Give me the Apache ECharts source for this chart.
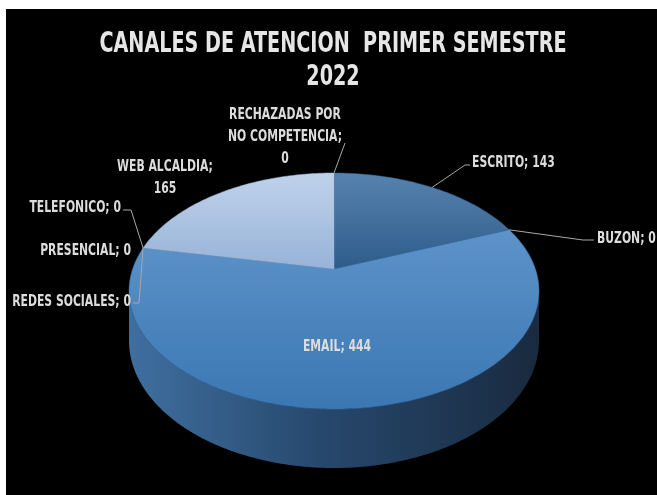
<!DOCTYPE html>
<html><head><meta charset="utf-8">
<script src="https://cdn.jsdelivr.net/npm/echarts@6/dist/echarts.min.js"></script>
<style>html,body{margin:0;padding:0;background:#fff}#c{width:657px;height:495px}</style>
</head><body><div id="c"></div>
<script>
// ---- data ----
const categories = ['ESCRITO','BUZON','EMAIL','REDES SOCIALES','PRESENCIAL','TELEFONICO','WEB ALCALDIA','RECHAZADAS POR NO COMPETENCIA'];
const values = [143, 0, 444, 0, 0, 0, 165, 0];
const titleLines = ['CANALES DE ATENCION  PRIMER SEMESTRE', '2022'];

// ---- styling / layout (not data) ----
const FONT = '"DejaVu Sans Condensed","Liberation Sans Narrow",sans-serif';
const CX = 334, CY = 269, S = 201.4, T = 113.9, K = 0.1864, H = 48;
const faceColors = {
  'ESCRITO': ['#5682ae', '#2e5c8a', 173, 269],
  'EMAIL': ['#5d93c9', '#3b77b2', 230, 409],
  'WEB ALCALDIA': ['#bfd2ea', '#98b3d8', 173, 269]
};
const labelLayout = {
  'ESCRITO': {x: 472, y: 163, align: 'left', line: [[465, 165], [470, 165]]},
  'BUZON': {x: 597, y: 239, align: 'left', line: [[583, 240], [594, 240]]},
  'EMAIL': {x: 337, y: 347, align: 'center'},
  'REDES SOCIALES': {x: 131, y: 302, align: 'right', line: [[139, 303], [133, 303]]},
  'PRESENCIAL': {x: 131, y: 251, align: 'right'},
  'TELEFONICO': {x: 121, y: 208, align: 'right', line: [[131, 210], [123, 210]]},
  'WEB ALCALDIA': {x: 165, y: 178, align: 'center', breakAfter: [';']},
  'RECHAZADAS POR NO COMPETENCIA': {x: 285, y: 137, align: 'center', breakAfter: ['POR', ';'], line: [[345, 143]]}
};

const total = values.reduce((a, b) => a + b, 0);
const starts = [];
{ let acc = 0; values.forEach(v => { starts.push(acc / total * Math.PI * 2); acc += v; }); }

function proj(th, depth) {
  const u = Math.sin(th), v = -Math.cos(th), w = 1 - K * v;
  return [CX + S * u / w, CY + T * v / w + (depth ? H / w : 0)];
}
function arc(a, b, depth) {
  const pts = [], n = Math.max(2, Math.ceil(Math.abs(b - a) / (Math.PI / 180)));
  for (let j = 0; j <= n; j++) pts.push(proj(a + (b - a) * j / n, depth));
  return pts;
}
const thA = Math.acos(-K), thB = 2 * Math.PI - Math.acos(-K);

const chart = echarts.init(document.getElementById('c'), null, {renderer: 'canvas'});
chart.setOption({
  backgroundColor: '#fff',
  animation: false,
  graphic: [
    {type: 'rect', z: -1, shape: {x: 6, y: 9, width: 651, height: 486}, style: {fill: '#000'}},
    {type: 'text', x: 333, y: 45, scaleX: 0.82, scaleY: 1.06, style: {text: titleLines[0], font: 'bold 26px ' + FONT, fill: '#e6e6e6', align: 'center', verticalAlign: 'middle'}},
    {type: 'text', x: 333, y: 78, scaleX: 0.82, scaleY: 1.06, style: {text: titleLines[1], font: 'bold 26px ' + FONT, fill: '#e6e6e6', align: 'center', verticalAlign: 'middle'}}
  ],
  series: [{
    type: 'custom',
    coordinateSystem: 'none',
    silent: true,
    data: values.map((v, i) => [i, v]),
    renderItem: function (params, api) {
      const i = params.dataIndex;
      const name = categories[i];
      const v = api.value(1);
      const a = starts[i], b = a + v / total * Math.PI * 2;
      const children = [];
      // side wall
      const lo = Math.max(a, thA), hi = Math.min(b, thB);
      if (v > 0 && hi > lo) {
        const pts = arc(lo, hi, false).concat(arc(hi, lo, true));
        children.push({
          type: 'polygon', z2: 1, shape: {points: pts},
          style: {fill: new echarts.graphic.LinearGradient(131, 0, 540, 0, [
            {offset: 0, color: '#3f6f9f'}, {offset: 0.45, color: '#27496e'}, {offset: 1, color: '#192a3f'}], true)}
        });
      }
      // top face
      if (v > 0) {
        const fc = faceColors[name];
        const pts = [[CX, CY]].concat(arc(a, b, false));
        children.push({
          type: 'polygon', z2: 10, shape: {points: pts},
          style: {fill: new echarts.graphic.LinearGradient(0, fc[2], 0, fc[3], [
            {offset: 0, color: fc[0]}, {offset: 1, color: fc[1]}], true), stroke: fc[1], lineWidth: 0.5}
        });
      }
      // label
      const L = labelLayout[name];
      let text = name + '; ' + v;
      (L.breakAfter || []).forEach(s => { text = text.replace(s + ' ', s + '\n'); });
      if (L.line) {
        const anc = proj((a + b) / 2, false);
        children.push({
          type: 'polyline', z2: 20, shape: {points: [anc].concat(L.line)},
          style: {stroke: '#a8a8a8', lineWidth: 1, fill: null}
        });
      }
      children.push({
        type: 'text', z2: 30, x: L.x, y: L.y, scaleX: 0.86, scaleY: 1.15,
        style: {text: text, font: 'bold 14px ' + FONT, fill: '#dcdcdc', align: L.align, verticalAlign: 'middle', lineHeight: 19}
      });
      return {type: 'group', children: children};
    }
  }]
});
</script></body></html>
